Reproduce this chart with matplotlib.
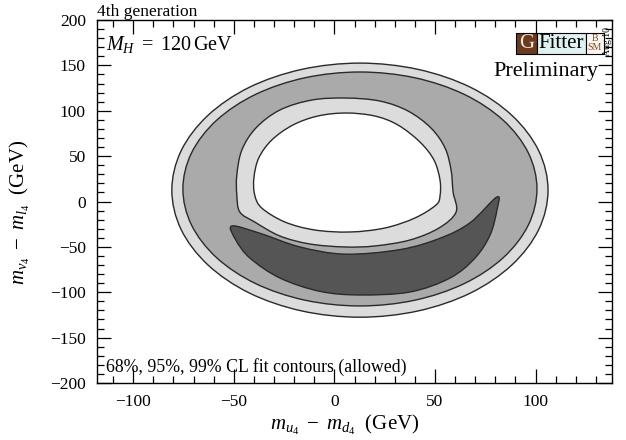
import numpy as np
import matplotlib
matplotlib.use("Agg")
import matplotlib.pyplot as plt
from matplotlib.path import Path
from matplotlib.patches import PathPatch, Rectangle

plt.rcParams['font.family'] = ['Liberation Serif', 'DejaVu Serif']
plt.rcParams['mathtext.fontset'] = 'custom'
plt.rcParams['mathtext.rm'] = 'Liberation Serif'
plt.rcParams['mathtext.it'] = 'Liberation Serif:italic'

# ---- contour outlines (x = m_u4 - m_d4, y = m_nu4 - m_l4) ----
# 99% CL outer boundary
c99_outer_x = [106.2, 101.6, 88.3, 67.7, 41.6, 12.7, -16.2, -42.3, -62.9, -76.2,
               -80.8, -76.2, -62.9, -42.3, -16.2, 12.7, 41.6, 67.7, 88.3, 101.6]
c99_outer_y = [12.5, 55.8, 94.8, 125.8, 145.6, 152.5, 145.6, 125.8, 94.8, 55.8,
               12.5, -30.8, -69.8, -100.8, -120.6, -127.5, -120.6, -100.8, -69.8, -30.8]
# 95% CL outer boundary
c95_outer_x = [100.7, 96.4, 83.9, 64.5, 39.9, 12.7, -14.5, -39.1, -58.5, -71,
               -75.3, -71, -58.5, -39.1, -14.5, 12.7, 39.9, 64.5, 83.9, 96.4]
c95_outer_y = [13.8, 53.6, 89.6, 118.1, 136.4, 142.7, 136.4, 118.1, 89.6, 53.6,
               13.8, -26, -62, -90.5, -108.8, -115.1, -108.8, -90.5, -62, -26]
# 95% CL inner boundary (hole side)
c95_inner_x = [5.7, 22.6, 36.6, 48, 55, 58, 59, 60.5, 52, 37.6, 20.1, 5.2, -12.2,
               -27.1, -39.6, -47, -48.5, -48.5, -46, -39, -27.1, -11.2]
c95_inner_y = [114, 110.7, 99.7, 81, 59, 34.7, 10.5, -11.6, -29.2, -42.4, -49, -50.1, -46.8,
               -38, -22.6, -11.6, 7.2, 29.2, 56.7, 81, 100.8, 111.8]
# 99% CL inner boundary (white hole)
c99_inner_x = [5.7, 20.1, 31.6, 42.5, 49.5, 52.5, 52.5, 50.5, 40, 25.1, 7.7, -9.7, -24.6,
               -36.1, -39.6, -40, -37.6, -31.1, -20.6, -8.2]
c99_inner_y = [97.5, 94.2, 84.3, 65.6, 45.7, 23.7, 6.1, -3.9, -18.2, -29.2, -33.6, -31.4, -22.6,
               -7.2, 7.2, 25.9, 47.9, 67.8, 84.3, 94.2]
# 68% CL region (crescent)
c68_x = [-51, -37, -17.2, 5.2, 32.6, 52.5, 67.4, 80.8, 80.8, 77.4, 69.9, 57.5, 37.6,
         12.7, -7.2, -27.1, -42, -49]
c68_y = [-27, -35, -50, -58, -53, -40.5, -23.5, 5, -9.4, -36.9, -62.3, -84.3, -99.7,
         -103, -99, -84.3, -62.3, -42.4]

x_ticks = [-100, -50, 0, 50, 100]
y_ticks = [-200, -150, -100, -50, 0, 50, 100, 150, 200]

LIGHT = '#dcdcdc'
MID = '#aaaaaa'
DARK = '#555555'
EDGE = '#2a2a2a'


def smooth_closed_path(xs, ys):
    pts = np.column_stack([xs, ys]).astype(float)
    n = len(pts)
    verts = [pts[0]]
    codes = [Path.MOVETO]
    for i in range(n):
        p0 = pts[(i - 1) % n]
        p1 = pts[i]
        p2 = pts[(i + 1) % n]
        p3 = pts[(i + 2) % n]
        c1 = p1 + (p2 - p0) / 6.0
        c2 = p2 - (p3 - p1) / 6.0
        verts += [c1, c2, p2]
        codes += [Path.CURVE4] * 3
    verts.append(pts[0])
    codes.append(Path.CLOSEPOLY)
    return Path(verts, codes)


W, H = 626, 440
fig = plt.figure(figsize=(W / 100, H / 100), dpi=100)
L, R, T, B = 97, 612, 20, 383
ax = fig.add_axes([L / W, (H - B) / H, (R - L) / W, (B - T) / H])

for xs, ys, col in [(c99_outer_x, c99_outer_y, LIGHT),
                    (c95_outer_x, c95_outer_y, MID),
                    (c95_inner_x, c95_inner_y, LIGHT),
                    (c99_inner_x, c99_inner_y, 'white'),
                    (c68_x, c68_y, DARK)]:
    ax.add_patch(PathPatch(smooth_closed_path(xs, ys), facecolor=col, edgecolor=EDGE, lw=1.0))

ax.set_xlim(-118, 138)
ax.set_ylim(-200, 200)
ax.set_xticks(x_ticks)
ax.set_yticks(y_ticks)
ax.set_xticks(np.arange(-110, 131, 10), minor=True)
ax.set_yticks(np.arange(-200, 201, 10), minor=True)
ax.tick_params(which='both', direction='in', top=True, right=True, labelsize=12.5, width=0.9)
ax.tick_params(which='major', length=10, pad=8)
ax.tick_params(which='minor', length=5)
for s in ax.spines.values():
    s.set_linewidth(1.0)

ax.set_xlabel(r'$m_{u_4}\ -\ m_{d_4}$  (GeV)', fontsize=15)
ax.set_ylabel(r'$m_{\nu_4}\ -\ m_{l_4}$  (GeV)', fontsize=15)
ax.xaxis.set_label_coords((345 - L) / (R - L), -(425 - B) / (B - T))
ax.yaxis.set_label_coords((20 - L) / (R - L), (B - 212) / (B - T))
ax.xaxis.label.set_va('center')
ax.yaxis.label.set_va('center')

fig.text(97 / W, 1 - 16 / H, '4th generation', fontsize=12.5, ha='left', va='baseline')
fig.text(106 / W, 1 - 50 / H, r'$M_H\ =\ 120\,\mathrm{GeV}$', fontsize=14.5, ha='left', va='baseline')
fig.text(106 / W, 1 - 372 / H, '68%, 95%, 99% CL fit contours (allowed)', fontsize=12.8, ha='left', va='baseline')
fig.text(598 / W, 1 - 76 / H, 'Preliminary', fontsize=16, ha='right', va='baseline')

# logo
def fig_rect(x0, y0, x1, y1, fc):
    r = Rectangle((x0 / W, 1 - y1 / H), (x1 - x0) / W, (y1 - y0) / H, transform=fig.transFigure,
                  facecolor=fc, edgecolor='black', lw=0.8)
    fig.patches.append(r)

fig_rect(516, 33, 537, 54, '#6b3a1f')
fig_rect(537, 33, 586, 54, '#def0ef')
fig_rect(586, 33, 604, 54, '#fbf7f0')
fig.text(526.5 / W, 1 - 44 / H, 'G', fontsize=15, color='#f3e9dc', ha='center', va='center')
fig.text(561.5 / W, 1 - 44 / H, 'Fitter', fontsize=15, color='black', ha='center', va='center')
fig.text(595 / W, 1 - 38 / H, 'B', fontsize=7, color='#7a4a28', ha='center', va='center')
fig.text(595 / W, 1 - 48 / H, 'SM', fontsize=7, color='#7a4a28', ha='center', va='center')
fig.text(608 / W, 1 - 42 / H, 'Aug 10', fontsize=7, color='black', ha='center', va='center', rotation=90)

fig.savefig('out.png', dpi=100)
